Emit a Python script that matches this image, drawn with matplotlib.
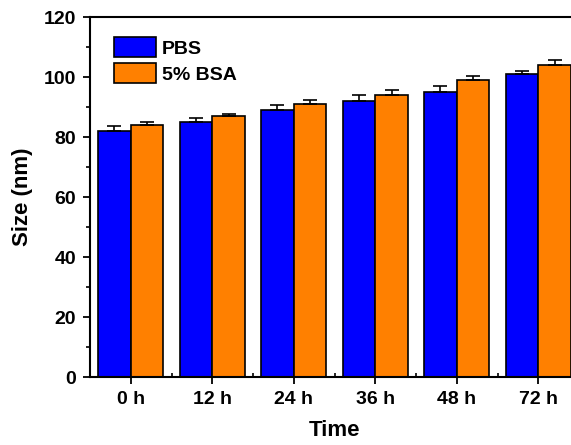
import numpy as np
import matplotlib
matplotlib.use("Agg")
import matplotlib.pyplot as plt
from matplotlib.ticker import MultipleLocator, FixedLocator

plt.rcParams['font.family'] = ['Liberation Sans', 'DejaVu Sans']
plt.rcParams['font.weight'] = 'bold'

# data
times = ["0 h", "12 h", "24 h", "36 h", "48 h", "72 h"]
pbs = [82, 85, 89, 92, 95, 101]
pbs_err = [1.6, 1.4, 1.6, 1.9, 2.1, 0.9]
bsa = [84, 87, 91, 94, 99, 104]
bsa_err = [1.0, 0.8, 1.5, 1.8, 1.3, 1.8]

fig = plt.figure(figsize=(5.71, 4.45), dpi=100)
ax = fig.add_axes([90/571, 68/445, 489/571, 360/445])

x = np.arange(len(times))
w = 0.4
err_kw = dict(ecolor='black', elinewidth=1.2, capsize=5, capthick=1.2)
ax.bar(x - w/2, pbs, w, color='#0000ff', edgecolor='black', linewidth=1.2,
       yerr=[np.zeros(len(pbs)), pbs_err], error_kw=err_kw, label='PBS')
ax.bar(x + w/2, bsa, w, color='#ff8000', edgecolor='black', linewidth=1.2,
       yerr=[np.zeros(len(bsa)), bsa_err], error_kw=err_kw, label='5% BSA')

ax.set_xlim(-0.5, len(times) - 0.5)
ax.set_ylim(0, 120)
ax.set_xticks(x)
ax.set_xticklabels(times)
ax.xaxis.set_minor_locator(FixedLocator(x[:-1] + 0.5))
ax.yaxis.set_major_locator(MultipleLocator(20))
ax.yaxis.set_minor_locator(MultipleLocator(10))

ax.tick_params(axis='both', which='major', direction='out', length=5, width=1.3,
               labelsize=14, pad=5)
ax.tick_params(axis='x', which='minor', direction='in', length=3, width=1.2)
ax.tick_params(axis='y', which='minor', direction='out', length=3, width=1.2)
for lab in ax.get_xticklabels() + ax.get_yticklabels():
    lab.set_fontweight('bold')
for s in ax.spines.values():
    s.set_linewidth(1.5)

ax.set_xlabel("Time", fontsize=16, fontweight='bold', labelpad=9)
ax.set_ylabel("Size (nm)", fontsize=16, fontweight='bold', labelpad=8)

ax.legend(loc='upper left', frameon=False, fontsize=14, handlelength=2.15,
          handleheight=1.2, handletextpad=0.3, labelspacing=0.28,
          borderaxespad=0.3, bbox_to_anchor=(0.021, 0.981))

fig.savefig("out.png", dpi=100)
